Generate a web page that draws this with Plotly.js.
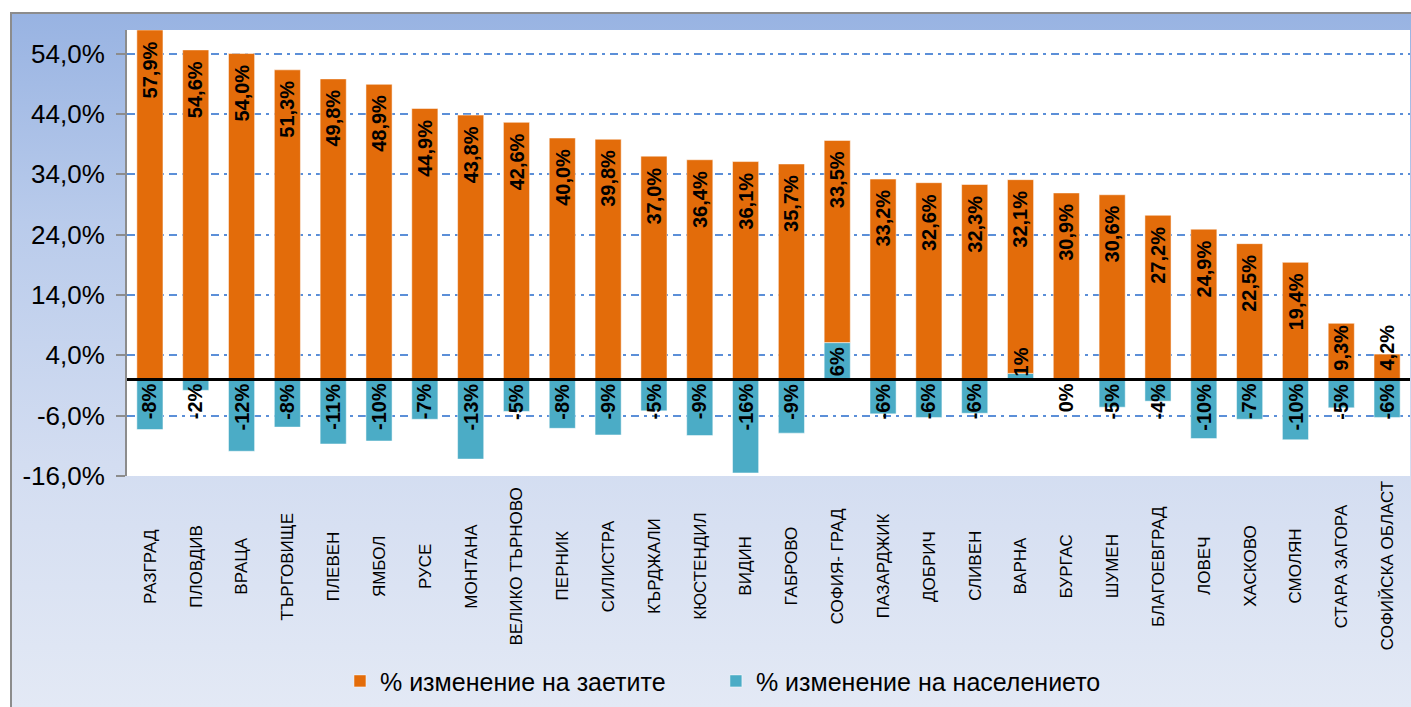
<!DOCTYPE html>
<html>
<head>
<meta charset="utf-8">
<script src="https://cdn.plot.ly/plotly-3.0.1.min.js"></script>
<style>
html,body{margin:0;padding:0;background:#ffffff;}
#frame{position:absolute;left:10px;top:12px;width:1401px;height:695px;box-sizing:border-box;border-top:2px solid #8c8c8c;border-left:2px solid #8c8c8c;
background:linear-gradient(to bottom,#98b3e2 0%,#b9cbeb 30%,#d3ddf1 65%,#e3e9f5 100%);}
#chart{position:absolute;left:0;top:0;width:1411px;height:707px;}
</style>
</head>
<body>
<div id="frame"></div>
<div id="chart"></div>
<script>
var categories = ["РАЗГРАД","ПЛОВДИВ","ВРАЦА","ТЪРГОВИЩЕ","ПЛЕВЕН","ЯМБОЛ","РУСЕ","МОНТАНА","ВЕЛИКО ТЪРНОВО","ПЕРНИК","СИЛИСТРА","КЪРДЖАЛИ","КЮСТЕНДИЛ","ВИДИН","ГАБРОВО","СОФИЯ- ГРАД","ПАЗАРДЖИК","ДОБРИЧ","СЛИВЕН","ВАРНА","БУРГАС","ШУМЕН","БЛАГОЕВГРАД","ЛОВЕЧ","ХАСКОВО","СМОЛЯН","СТАРА ЗАГОРА","СОФИЙСКА ОБЛАСТ"];
var employedChange = [57.9,54.6,54.0,51.3,49.8,48.9,44.9,43.8,42.6,40.0,39.8,37.0,36.4,36.1,35.7,33.5,33.2,32.6,32.3,32.1,30.9,30.6,27.2,24.9,22.5,19.4,9.3,4.2];
var populationChange = [-8.3,-1.8,-11.9,-7.9,-10.7,-10.2,-6.6,-13.2,-5.3,-8.1,-9.2,-5.2,-9.3,-15.5,-8.9,6.1,-5.7,-6.3,-5.6,1.0,0.0,-4.6,-3.6,-9.8,-6.6,-10.0,-4.7,-6.3];
var seriesNames = ["% изменение на заетите","% изменение на населението"];
var yTicks = [-16,-6,4,14,24,34,44,54];

var sans = "'Liberation Sans',Arial,sans-serif";
var labelFont = {family:sans, size:20, color:'#000000', weight:'bold'};

var tealTrace = {
  type:'bar', name:seriesNames[1], x:categories, y:populationChange,
  marker:{color:'#4bacc6', line:{color:'rgba(255,255,255,0.5)', width:1}},
  width:0.57, legend:'legend2', hoverinfo:'skip'
};
var orangeTrace = {
  type:'bar', name:seriesNames[0], x:categories, y:employedChange,
  marker:{color:'#e36c0a', line:{color:'rgba(255,255,255,0.5)', width:1}},
  width:0.57, legend:'legend', hoverinfo:'skip'
};

var annotations = categories.map(function(c){
  return {x:c, xref:'x', y:-0.202, yref:'paper', text:c, showarrow:false,
    textangle:-90, xanchor:'center', yanchor:'middle',
    font:{family:sans, size:17, color:'#000000'}};
});
// population labels: anchored at the zero line
populationChange.forEach(function(v, i){
  annotations.push({x:categories[i], xref:'x', y:0, yref:'y',
    text:v.toFixed(0).replace('-0','0') + '%', showarrow:false, textangle:-90,
    xanchor:'center', yanchor:(v > 0 ? 'bottom' : 'top'), yshift:(v > 0 ? 2 : -3),
    borderpad:0, font:labelFont});
});
// employed labels: inside the end of the stacked bar
employedChange.forEach(function(v, i){
  var top = v + Math.max(populationChange[i], 0);
  var small = v < 12;
  annotations.push({x:categories[i], xref:'x', y:(small ? 0 : top), yref:'y',
    text:v.toFixed(1).replace('.', ',') + '%', showarrow:false, textangle:-90,
    xanchor:'center', yanchor:(small ? 'bottom' : 'top'), yshift:(small ? 8 : -10),
    borderpad:0, font:labelFont});
});

var yTickText = yTicks.map(function(t){ return t.toFixed(1).replace('.', ',') + '%'; });

var layout = {
  width:1411, height:707,
  margin:{l:127, r:1, t:30, b:231, pad:0},
  paper_bgcolor:'rgba(0,0,0,0)',
  plot_bgcolor:'#ffffff',
  barmode:'relative',
  separators:',.',
  showlegend:true,
  legend:{orientation:'h', x:0.166, xanchor:'left', y:-0.46, yanchor:'middle',
    font:{family:sans, size:25, color:'#000000'}, bgcolor:'rgba(0,0,0,0)'},
  legend2:{orientation:'h', x:0.459, xanchor:'left', y:-0.46, yanchor:'middle',
    font:{family:sans, size:25, color:'#000000'}, bgcolor:'rgba(0,0,0,0)'},
  xaxis:{type:'category', showticklabels:false, ticks:'', showgrid:false, showline:false, zeroline:false,
    range:[-0.5, categories.length-0.5]},
  yaxis:{range:[-16,57.9], tickvals:yTicks, ticktext:yTickText,
    tickfont:{family:sans, size:26, color:'#000000'}, ticklabelstandoff:6,
    showgrid:true, gridcolor:'#5b8fd8', gridwidth:2, griddash:'8px,5px,3px,5px',
    showline:true, linecolor:'#8c8c8c', linewidth:2,
    ticks:'outside', ticklen:9, tickcolor:'#8c8c8c', tickwidth:2,
    zeroline:false},
  shapes:[{type:'line', xref:'paper', x0:0, x1:1, yref:'y', y0:0, y1:0,
    line:{color:'#000000', width:3}, layer:'above'}],
  annotations:annotations
};

Plotly.newPlot('chart',[tealTrace, orangeTrace],layout,{displayModeBar:false, staticPlot:true});
</script>
</body>
</html>
